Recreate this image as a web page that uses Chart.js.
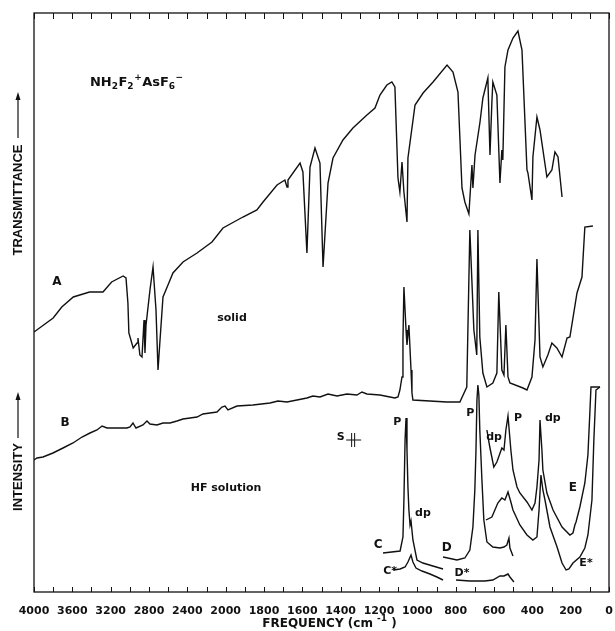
<!DOCTYPE html>
<html><head><meta charset="utf-8">
<script src="https://cdn.jsdelivr.net/npm/chart.js@4/dist/chart.umd.min.js"></script>
<style>html,body{margin:0;padding:0;background:#fff}</style>
</head><body>
<canvas id="c" width="615" height="631"></canvas>
<script>
// ---- data (frequency in cm-1, signal in arbitrary units) ----
const freqA = [4000,3800,3710,3590,3420,3280,3190,3070,3040,3020,3010,2965,2925,2915,2895,2873,2852,2842,2831,2790,2758,2727,2706,2685,2654,2602,2550,2445,2299,2143,2028,1910,1837,1805,1732,1691,1680,1675,1612,1597,1576,1560,1534,1508,1492,1466,1440,1388,1336,1263,1221,1195,1159,1133,1117,1101,1091,1080,1070,1054,1049,1012,970,918,845,814,788,767,752,731,715,710,699,673,658,632,621,611,606,585,569,559,554,543,527,501,475,454,428,423,402,397,376,360,324,298,282,266,245];
const transA = [260,274,285,295,300,300,310,316,314,289,259,244,249,254,237,235,272,239,267,302,325,282,222,252,295,307,319,330,339,350,364,375,382,390,407,412,405,412,429,420,339,425,444,429,325,409,434,452,464,477,484,497,507,510,505,414,400,430,400,370,434,487,499,510,527,520,500,404,390,378,427,404,437,470,494,514,437,490,510,497,409,442,432,525,542,554,561,542,422,419,392,435,475,462,415,422,440,435,395];

const freqB = [4000,3969,3906,3802,3697,3593,3499,3416,3343,3290,3238,3134,3030,2998,2967,2936,2863,2821,2790,2717,2654,2581,2508,2445,2372,2299,2237,2164,2091,2039,2007,1988,1941,1858,1769,1727,1680,1628,1576,1545,1508,1466,1419,1367,1315,1289,1263,1195,1143,1117,1101,1091,1080,1075,1070,1059,1054,1044,1033,1028,1023,846,778,742,726,705,690,684,674,658,637,606,585,575,559,548,538,527,517,449,428,402,386,376,360,345,319,298,272,245,219,204,167,141,126,84];
const intB = [132,134,135,139,144,149,155,159,162,166,164,164,164,165,169,164,167,171,168,167,169,169,171,173,174,175,178,179,180,185,186,182,186,187,189,191,190,192,194,196,195,198,196,198,197,200,198,197,195,194,195,202,215,252,305,262,247,267,222,199,192,190,190,205,362,262,237,362,255,219,205,209,219,300,222,217,267,215,209,204,202,215,252,333,235,225,237,249,244,235,254,255,299,315,365,366];

const freqC = [1179,1090,1075,1070,1064,1059,1054,1049,1044,1038,1033,1023,1002,971,919,866];
const intC = [39,41,55,92,152,174,142,105,82,67,71,52,32,29,26,23];
const freqCstar = [1126,1090,1064,1049,1033,1023,1007,976,934,898,866];
const intCstar = [22,23,25,30,37,30,24,21,18,15,12];

const freqD = [866,793,752,726,710,700,694,689,684,679,674,663,653,637,606,569,548,533,522,517,501];
const intD = [35,32,34,42,65,102,142,192,207,197,162,112,72,50,45,44,45,47,54,44,36];
const freqDstar = [798,726,648,606,569,548,527,517,496];
const intDstar = [12,11,11,12,16,16,18,15,10];

const freqE = [637,622,601,585,559,548,538,527,512,501,480,465,428,402,386,376,365,360,350,345,324,292,245,204,188,178,172,152,126,110,100,94,47];
const intE = [162,145,125,130,144,142,162,176,142,122,105,99,90,82,89,105,132,172,142,122,99,82,65,57,59,67,70,85,109,137,179,205,205];
const freqEstar = [642,611,580,559,543,527,512,501,465,428,397,376,365,355,345,334,308,271,245,224,209,188,152,126,110,89,79,68,47];
const intEstar = [72,75,89,94,92,100,90,82,67,57,52,55,82,117,102,92,65,45,29,22,23,29,35,44,57,92,152,202,205];

const tickFreqLabels = [4000,3600,3200,2800,2400,2000,1800,1600,1400,1200,1000,800,600,400,200,0];

// ---- axis: scale halves above 2000 cm-1 ----
const toU = f => f > 2000 ? 1000 + f / 2 : f;
const toF = u => u > 2000 ? 2 * u - 2000 : u;

const mk = (fs, vs) => ({
  data: fs.map((f, i) => ({x: toU(f), y: vs[i]})),
  showLine: true, pointRadius: 0, borderColor: '#111', borderWidth: 1.4,
  tension: 0, fill: false
});

const ink = '#111';
const SANS = '"DejaVu Sans", sans-serif';
const LSANS = '"Liberation Sans", Arial, sans-serif';

const framePlugin = {
  id: 'frame',
  afterDraw(chart) {
    const {ctx, chartArea: a, scales: {x, y}} = chart;
    ctx.save();
    ctx.strokeStyle = ink;
    ctx.lineWidth = 1.3;
    ctx.strokeRect(a.left, a.top, a.right - a.left, a.bottom - a.top);
    ctx.lineWidth = 1;
    ctx.beginPath();
    x.ticks.forEach(t => {
      const p = Math.round(x.getPixelForValue(t.value)) + 0.5;
      ctx.moveTo(p, a.bottom); ctx.lineTo(p, a.bottom - 5);
      ctx.moveTo(p, a.top); ctx.lineTo(p, a.top + 6);
    });
    ctx.stroke();

    const X = f => x.getPixelForValue(toU(f));
    const Y = v => y.getPixelForValue(v);
    ctx.fillStyle = ink;
    ctx.textBaseline = 'middle';

    // formula
    const runs = [
      ['NH', 13, 0], ['2', 9, 4], ['F', 13, 0], ['2', 9, 4], ['+', 9, -5],
      ['AsF', 13, 0], ['6', 9, 4], ['\u2212', 9, -5]
    ];
    let cx = X(3416), cy = Y(509);
    ctx.textAlign = 'left';
    runs.forEach(([t, s, dy]) => {
      ctx.font = 'bold ' + s + 'px ' + SANS;
      ctx.fillText(t, cx, cy + dy);
      cx += ctx.measureText(t).width + (s < 13 ? 0.5 : 0);
    });

    ctx.textAlign = 'center';
    const lab = (t, f, v, size) => {
      ctx.font = 'bold ' + (size || 11) + 'px ' + SANS;
      ctx.fillText(t, X(f), Y(v));
    };
    lab('A', 3760, 310, 12);
    lab('B', 3677, 169, 12);
    lab('solid', 1967, 274);
    lab('HF solution', 1998, 104);
    lab('P', 1105, 170);
    lab('P', 724, 179);
    lab('dp', 600, 155);
    lab('P', 474, 174);
    lab('dp', 293, 174);
    lab('dp', 971, 79);
    lab('C', 1205, 47, 12);
    lab('C*', 1142, 21, 11);
    lab('D', 846, 44, 12);
    lab('D*', 767, 19, 11);
    lab('E', 188, 104, 12);
    lab('E*', 120, 29, 11);
    lab('S', 1400, 155);

    // slit symbol next to S
    const sx = X(1335), sy = Y(152);
    ctx.beginPath();
    ctx.lineWidth = 1;
    ctx.moveTo(sx - 7, sy); ctx.lineTo(sx + 8, sy);
    ctx.moveTo(sx - 1.5, sy - 7); ctx.lineTo(sx - 1.5, sy + 7);
    ctx.moveTo(sx + 1.5, sy - 7); ctx.lineTo(sx + 1.5, sy + 7);
    ctx.stroke();

    // vertical axis titles with arrows
    const vtitle = (text, cyy, a0, a1) => {
      ctx.save();
      ctx.translate(18, cyy);
      ctx.rotate(-Math.PI / 2);
      ctx.font = 'bold 13px ' + LSANS;
      ctx.textAlign = 'center';
      ctx.fillText(text, 0, 0);
      ctx.beginPath();
      ctx.lineWidth = 1.2;
      ctx.moveTo(a0, 0); ctx.lineTo(a1 - 5, 0);
      ctx.stroke();
      ctx.beginPath();
      ctx.moveTo(a1, 0); ctx.lineTo(a1 - 8, -2.5); ctx.lineTo(a1 - 8, 2.5);
      ctx.closePath(); ctx.fill();
      ctx.restore();
    };
    vtitle('TRANSMITTANCE', 200, 62, 108);
    vtitle('INTENSITY', 477, 39, 85);

    // x title
    ctx.textAlign = 'left';
    ctx.font = 'bold 12px ' + SANS;
    const t1 = 'FREQUENCY (cm ';
    const w1 = ctx.measureText(t1).width;
    ctx.font = 'bold 9px ' + SANS;
    const t2 = '-1';
    const w2 = ctx.measureText(t2).width;
    ctx.font = 'bold 12px ' + SANS;
    const w3 = ctx.measureText(' )').width;
    let tx = (a.left + a.right) / 2 + 8 - (w1 + w2 + w3) / 2;
    const ty = 624;
    ctx.fillText(t1, tx, ty);
    ctx.font = 'bold 9px ' + SANS;
    ctx.fillText(t2, tx + w1, ty - 5);
    ctx.font = 'bold 12px ' + SANS;
    ctx.fillText(' )', tx + w1 + w2, ty);
    ctx.restore();
  }
};

new Chart(document.getElementById('c'), {
  type: 'scatter',
  data: {
    datasets: [
      mk(freqA, transA), mk(freqB, intB),
      mk(freqC, intC), mk(freqCstar, intCstar),
      mk(freqD, intD), mk(freqDstar, intDstar),
      mk(freqE, intE), mk(freqEstar, intEstar)
    ]
  },
  options: {
    responsive: false,
    animation: false,
    events: [],
    layout: {padding: {left: 34, right: 6, top: 13, bottom: 0}},
    plugins: {legend: {display: false}, tooltip: {enabled: false}},
    scales: {
      x: {
        type: 'linear', min: 0, max: 3000, reverse: true,
        afterBuildTicks: s => {
          const t = [];
          for (let u = 0; u <= 3000; u += 100) t.push({value: u});
          s.ticks = t;
        },
        afterFit: s => { s.height = 39; },
        grid: {display: false},
        border: {display: false},
        ticks: {
          autoSkip: false, maxRotation: 0, minRotation: 0, padding: 5, color: ink,
          font: {family: 'DejaVu Sans', weight: 'bold', size: 11},
          callback: v => {
            const f = toF(v);
            return tickFreqLabels.includes(f) ? String(f) : '';
          }
        }
      },
      y: {display: false, min: 0, max: 579}
    }
  },
  plugins: [framePlugin]
});
</script>
</body></html>
